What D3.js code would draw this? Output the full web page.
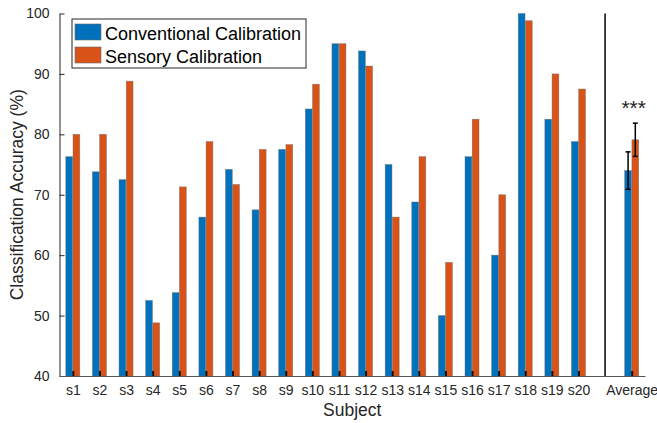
<!DOCTYPE html>
<html>
<head>
<meta charset="utf-8">
<script src="https://cdn.jsdelivr.net/npm/d3@7"></script>
<style>
  html, body { margin: 0; padding: 0; background: #fff; }
  svg { display: block; font-family: "Liberation Sans", Arial, sans-serif; }
</style>
</head>
<body>
<div id="chart"></div>
<script>
// Per-subject accuracies (%)
const subjects = ["s1","s2","s3","s4","s5","s6","s7","s8","s9","s10",
                  "s11","s12","s13","s14","s15","s16","s17","s18","s19","s20"];
const conventional = [76.3, 73.8, 72.5, 52.5, 53.8, 66.3, 74.2, 67.5, 77.5, 84.2,
                      95.0, 93.8, 75.0, 68.8, 50.0, 76.3, 60.0, 100.0, 82.5, 78.8];
const sensory = [80.0, 80.0, 88.8, 48.8, 71.3, 78.8, 71.7, 77.5, 78.3, 88.3,
                 95.0, 91.3, 66.3, 76.3, 58.8, 82.5, 70.0, 98.8, 90.0, 87.5];

// Average group with error bars
const averageLabel = "Average";
const averageValues = [74.0, 79.1];
const averageErrors = [3.1, 2.75];
const significance = "***";

const seriesNames = ["Conventional Calibration", "Sensory Calibration"];
const seriesColors = ["#0072BD", "#D95319"];
const yTicks = [40, 50, 60, 70, 80, 90, 100];

// Set up dimensions
const width = 657, height = 423;
const margin = { top: 13.5, right: 12, bottom: 47, left: 59.5 };
const textColor = "#262626";

const svg = d3.select("#chart").append("svg")
    .attr("width", width)
    .attr("height", height)
    .attr("viewBox", [0, 0, width, height]);

// positions 1..20 for subjects, 21 is the divider, 22 is the average
const x = d3.scaleLinear()
    .domain([0.5, 22.5])
    .range([margin.left, width - margin.right]);
const xSub = d3.scaleBand()
    .domain([0, 1])
    .range([-7, 7])
    .paddingInner(0.06);
const y = d3.scaleLinear()
    .domain([40, 100])
    .range([height - margin.bottom, margin.top]);

const groups = subjects.map((s, i) => ({ label: s, pos: i + 1, values: [conventional[i], sensory[i]] }));
groups.push({ label: averageLabel, pos: 22, values: averageValues, errors: averageErrors });

// Bars
const bars = [];
groups.forEach(g => g.values.forEach((v, k) => bars.push({ pos: g.pos, k, v, err: g.errors ? g.errors[k] : null })));

svg.append("g")
  .selectAll("rect")
  .data(bars)
  .join("rect")
    .attr("x", d => x(d.pos) + xSub(d.k))
    .attr("y", d => y(d.v))
    .attr("width", xSub.bandwidth())
    .attr("height", d => y(40) - y(d.v))
    .attr("fill", d => seriesColors[d.k])
    .attr("stroke", "#6b6b6b")
    .attr("stroke-opacity", 0.7)
    .attr("stroke-width", 0.6);

// Divider line before the average
svg.append("line")
    .attr("x1", x(21)).attr("x2", x(21))
    .attr("y1", y(100)).attr("y2", y(40))
    .attr("stroke", "#000")
    .attr("stroke-width", 1.5);

// Error bars
const errs = bars.filter(d => d.err != null);
const eg = svg.append("g").attr("stroke", "#000").attr("stroke-width", 1.5);
errs.forEach(d => {
    const cx = x(d.pos) + xSub(d.k) + xSub.bandwidth() / 2;
    eg.append("line").attr("x1", cx).attr("x2", cx).attr("y1", y(d.v + d.err)).attr("y2", y(d.v - d.err));
    eg.append("line").attr("x1", cx - 2.5).attr("x2", cx + 2.5).attr("y1", y(d.v + d.err)).attr("y2", y(d.v + d.err));
    eg.append("line").attr("x1", cx - 2.5).attr("x2", cx + 2.5).attr("y1", y(d.v - d.err)).attr("y2", y(d.v - d.err));
});

svg.append("text")
    .attr("x", x(22) + 2)
    .attr("y", 115)
    .attr("text-anchor", "middle")
    .style("font-size", "21px")
    .style("fill", textColor)
    .text(significance);

// Y axis (ticks inward)
const yAxis = svg.append("g")
    .attr("transform", `translate(${margin.left},0)`)
    .call(d3.axisLeft(y).tickValues(yTicks).tickSizeInner(-5).tickSizeOuter(0).tickPadding(10));
yAxis.select(".domain").attr("stroke", textColor);
yAxis.selectAll(".tick line").attr("stroke", textColor);
yAxis.selectAll(".tick text")
    .style("font-size", "14px")
    .style("font-family", "Liberation Sans, Arial, sans-serif")
    .attr("fill", textColor);

// X axis (ticks inward, black)
const xAxis = svg.append("g")
    .attr("transform", `translate(0,${y(40)})`)
    .call(d3.axisBottom(x)
        .tickValues(groups.map(g => g.pos))
        .tickFormat(p => groups.find(g => g.pos === p).label)
        .tickSizeInner(-5).tickSizeOuter(0).tickPadding(9));
xAxis.select(".domain").attr("stroke", "#555").attr("stroke-width", 1.2);
xAxis.selectAll(".tick line").attr("stroke", "#111").attr("stroke-width", 2);
xAxis.selectAll(".tick text")
    .style("font-size", "14px")
    .style("font-family", "Liberation Sans, Arial, sans-serif")
    .attr("fill", textColor);

// Axis titles
svg.append("text")
    .attr("x", (x.range()[0] + x.range()[1]) / 2)
    .attr("y", 416)
    .attr("text-anchor", "middle")
    .style("font-size", "17.5px")
    .style("fill", textColor)
    .text("Subject");

svg.append("text")
    .attr("transform", `translate(23,${(y(100) + y(40)) / 2}) rotate(-90)`)
    .attr("text-anchor", "middle")
    .style("font-size", "17.5px")
    .style("fill", textColor)
    .text("Classification Accuracy (%)");

// Legend
const legend = svg.append("g");
legend.append("rect")
    .attr("x", 72).attr("y", 19)
    .attr("width", 234).attr("height", 49)
    .attr("fill", "#fff")
    .attr("stroke", textColor)
    .attr("stroke-width", 1);
seriesNames.forEach((name, k) => {
    legend.append("rect")
        .attr("x", 75).attr("y", 24 + k * 23)
        .attr("width", 26).attr("height", 16)
        .attr("fill", seriesColors[k])
        .attr("stroke", "#6b6b6b")
        .attr("stroke-width", 0.6);
    legend.append("text")
        .attr("x", 105).attr("y", 39.5 + k * 23)
        .style("font-size", "18px")
        .style("fill", "#000")
        .text(name);
});
</script>
</body>
</html>
